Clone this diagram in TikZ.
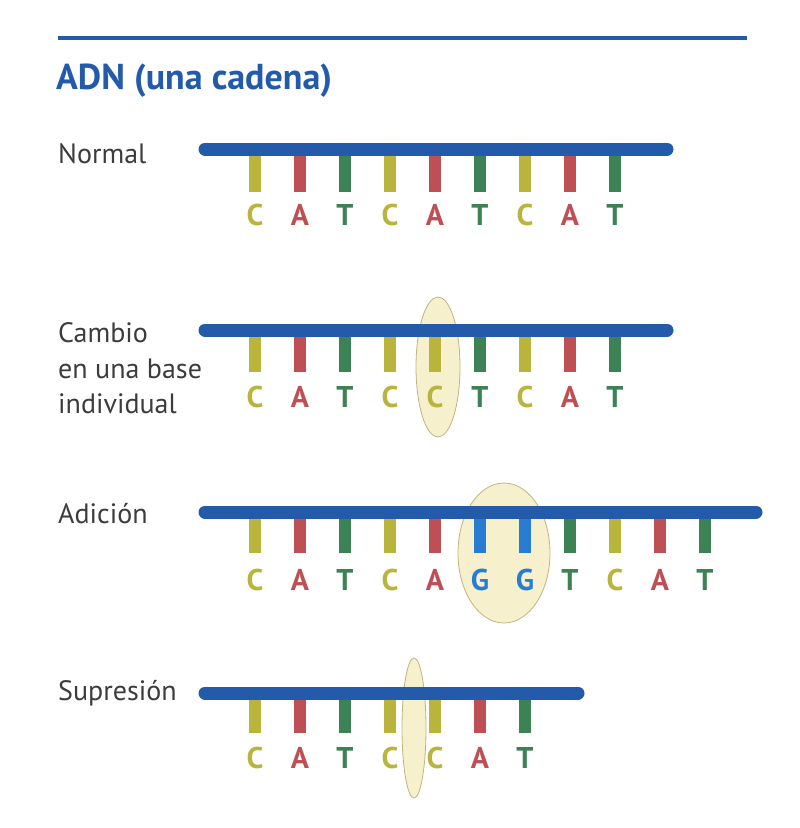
\documentclass[tikz,border=0pt]{standalone}
\usepackage{fontspec}
\setmainfont{PT Sans}
\definecolor{bb}{RGB}{35,90,170}
\definecolor{colC}{RGB}{185,180,60}
\definecolor{colA}{RGB}{190,80,85}
\definecolor{colT}{RGB}{60,130,85}
\definecolor{colG}{RGB}{40,125,210}
\definecolor{ellf}{RGB}{246,240,205}
\definecolor{elld}{RGB}{190,180,130}
\definecolor{lab}{RGB}{60,60,60}
\tikzset{
  backbone/.style={line width=13pt, line cap=round, draw=bb},
  basestick/.style={line width=12.5pt},
  baseletter/.style={font=\fontsize{30}{30}\selectfont\bfseries, anchor=base, inner sep=0pt},
  rowlabel/.style={font=\fontsize{28}{28}\selectfont, text=lab, anchor=base west, inner sep=0pt, align=left},
  highlight/.style={draw=elld, line width=0.8pt, fill=ellf},
}
\begin{document}
\begin{tikzpicture}[x=1pt,y=-1pt]
\useasboundingbox (0,0) rectangle (800,828);
% top rule and title
\draw[bb, line width=4pt] (58,38) -- (747,38);
\node[font=\fontsize{36}{36}\selectfont\bfseries, text=bb, anchor=base west, inner sep=0pt] (title) at (56,89) {ADN (una cadena)};
% Row 1: Normal
\node[rowlabel] (lnormal) at (58,163) {Normal};
\foreach \L [count=\i] in {C,A,T,C,A,T,C,A,T} {
  \draw[basestick, col\L] (210+45*\i,152) -- (210+45*\i,192);
  \node[baseletter, text=col\L] (a\i) at (210+45*\i,225) {\L};
}
\draw[backbone] (205,149) -- (667,149);
% Row 2: single base change
\draw[highlight] (438,367) ellipse [x radius=22, y radius=70];
\node[rowlabel] (lcambio1) at (58,342) {Cambio};
\node[rowlabel] (lcambio2) at (58,378) {en una base};
\node[rowlabel] (lcambio3) at (58,413) {individual};
\foreach \L [count=\i] in {C,A,T,C,C,T,C,A,T} {
  \draw[basestick, col\L] (210+45*\i,333) -- (210+45*\i,372);
  \node[baseletter, text=col\L] (b\i) at (210+45*\i,407) {\L};
}
\draw[backbone] (205,330) -- (667,330);
% Row 3: addition
\draw[highlight] (504,553) ellipse [x radius=46, y radius=70];
\node[rowlabel] (ladicion) at (58,523) {Adición};
\foreach \L [count=\i] in {C,A,T,C,A,G,G,T,C,A,T} {
  \draw[basestick, col\L] (210+45*\i,515) -- (210+45*\i,553);
  \node[baseletter, text=col\L] (c\i) at (210+45*\i,590) {\L};
}
\draw[backbone] (205,512) -- (756,512);
% Row 4: deletion
\draw[highlight] (414,728) ellipse [x radius=12, y radius=70];
\node[rowlabel] (lsupresion) at (58,700) {Supresión};
\foreach \L [count=\i] in {C,A,T,C,C,A,T} {
  \draw[basestick, col\L] (210+45*\i,696) -- (210+45*\i,733);
  \node[baseletter, text=col\L] (d\i) at (210+45*\i,768) {\L};
}
\draw[backbone] (205,693) -- (578,693);
\end{tikzpicture}
\end{document}
